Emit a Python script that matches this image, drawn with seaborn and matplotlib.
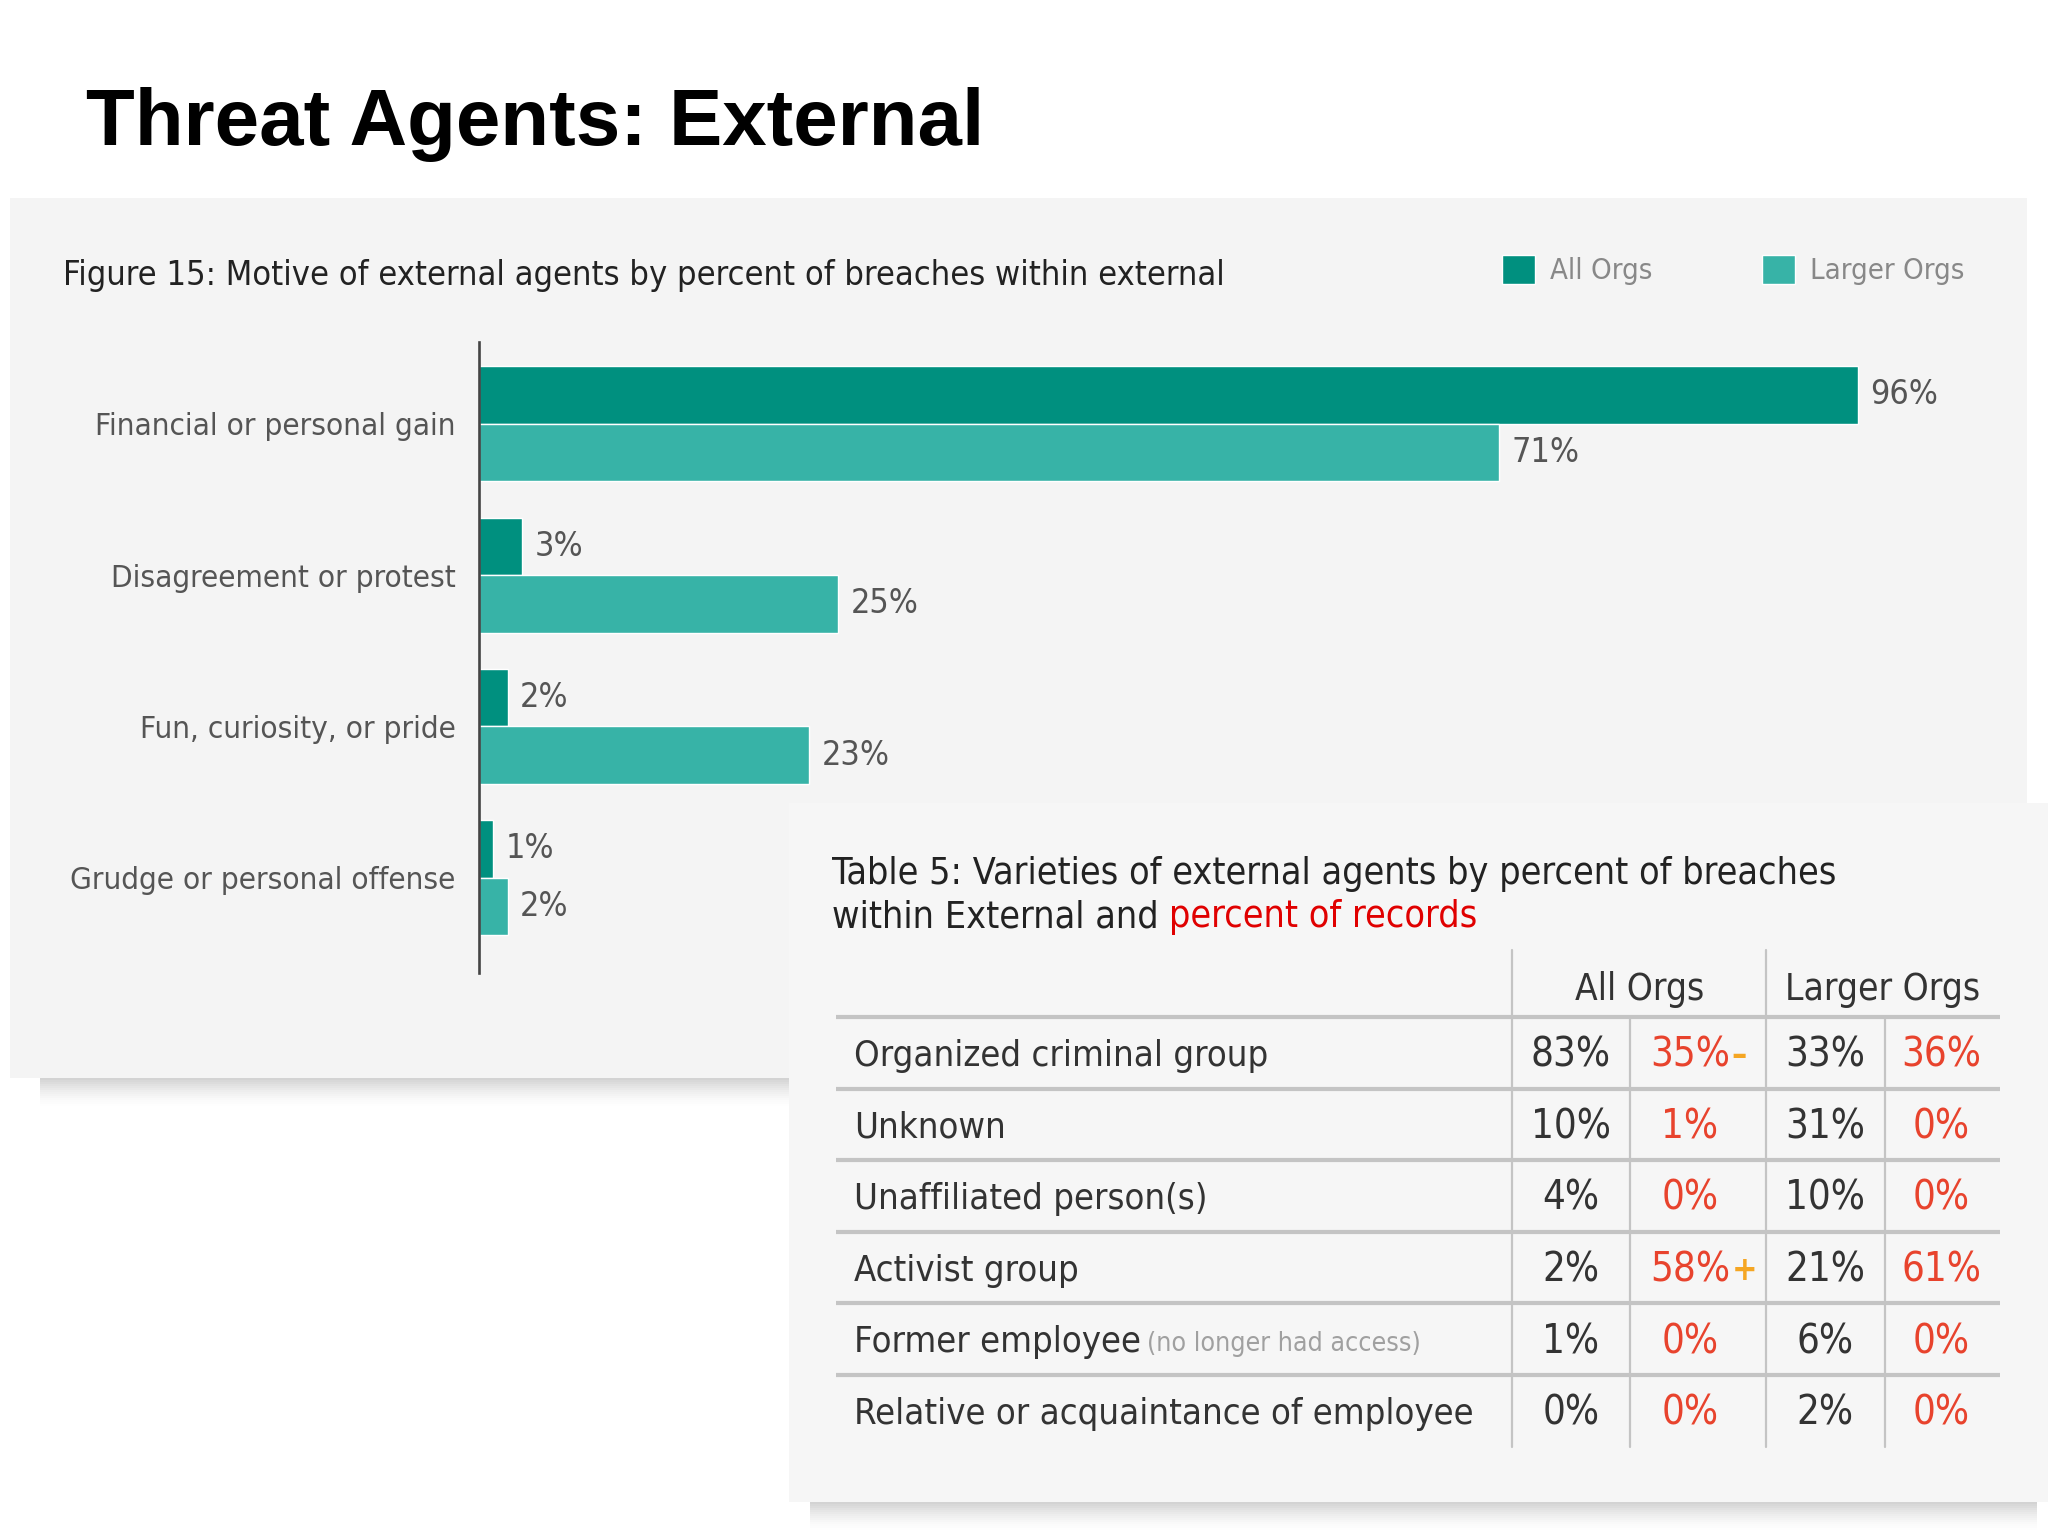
import matplotlib
matplotlib.use("Agg")
import matplotlib.pyplot as plt
from matplotlib import font_manager
from matplotlib.font_manager import FontProperties
from matplotlib.patches import Rectangle
import seaborn as sns
import pandas as pd

# ---- chart data ----
motives = ["Financial or personal gain", "Disagreement or protest",
           "Fun, curiosity, or pride", "Grudge or personal offense"]
all_orgs = [96, 3, 2, 1]
larger_orgs = [71, 25, 23, 2]
groups = ["All Orgs", "Larger Orgs"]

# ---- table data ----
varieties = ["Organized criminal group", "Unknown", "Unaffiliated person(s)",
             "Activist group", "Former employee", "Relative or acquaintance of employee"]
variety_notes = ["", "", "", "", "(no longer had access)", ""]
all_breaches = [83, 10, 4, 2, 1, 0]
all_records = [35, 1, 0, 58, 0, 0]
all_record_marks = ["\u2013", "", "", "+", "", ""]
larger_breaches = [33, 31, 10, 21, 6, 2]
larger_records = [36, 0, 0, 61, 0, 0]

DARK_TEAL = "#00907f"
LIGHT_TEAL = "#37b3a7"
RED = "#e8432d"
ORANGE = "#f5a623"

sns.set_style("white")

# pick a narrow face if one is around
fonts = font_manager.fontManager.ttflist


def has(name, stretch=None):
    return any(f.name == name and (stretch is None or f.stretch == stretch) for f in fonts)


if has("Liberation Sans Narrow"):
    FAM, STRETCH = "Liberation Sans Narrow", "normal"
elif has("DejaVu Sans", "condensed"):
    FAM, STRETCH = "DejaVu Sans", "condensed"
elif has("Roboto Condensed"):
    FAM, STRETCH = "Roboto Condensed", "normal"
elif has("Roboto"):
    FAM, STRETCH = "Roboto", "normal"
else:
    FAM, STRETCH = "DejaVu Sans", "normal"
plt.rcParams["font.family"] = [FAM, "DejaVu Sans"]
plt.rcParams["font.stretch"] = STRETCH

fig = plt.figure(figsize=(20.48, 15.36), dpi=100)
fig.patch.set_facecolor("white")
renderer = fig.canvas.get_renderer()


def fit(s, width_px, weight="normal"):
    """font size (pt) that makes s about width_px wide"""
    fp = FontProperties(family=FAM, stretch=STRETCH, weight=weight, size=100)
    w, _, _ = renderer.get_text_width_height_descent(s, fp, ismath=False)
    return 100 * width_px / w


FS_FIG_TITLE = fit("Figure 15: Motive of external agents by percent of breaches within external", 1162)
FS_TICK = fit("Grudge or personal offense", 387)
FS_BARLAB = fit("96%", 68)
FS_LEG = fit("All Orgs", 102)
FS_TAB_TITLE = fit("Table 5: Varieties of external agents by percent of breaches", 1006)
FS_HEAD = fit("Larger Orgs", 195)
FS_ROW = fit("Relative or acquaintance of employee", 619)
FS_NUM = fit("83%", 80)
FS_NOTE = fit("(no longer had access)", 273)

# background canvas in pixel coordinates
bg = fig.add_axes([0, 0, 1, 1], zorder=0)
bg.set_xlim(0, 2048)
bg.set_ylim(1536, 0)
bg.axis("off")


def shadow(x0, x1, y0, depth=28):
    n = 14
    for i in range(n):
        a = 0.32 * (1 - i / n) ** 1.6
        bg.add_patch(Rectangle((x0, y0 + i * depth / n), x1 - x0, depth / n,
                               fc="#777777", ec="none", alpha=a, zorder=1))


# upper (figure) panel
bg.add_patch(Rectangle((10, 198), 2017, 880, fc="#f4f4f4", ec="none", zorder=1))
shadow(40, 789, 1078)
# table panel
bg.add_patch(Rectangle((789, 803), 1259, 699, fc="#f6f6f6", ec="none", zorder=2))
shadow(810, 2037, 1502)

bg.text(86, 124, "Threat Agents: External", family=["Liberation Sans", "DejaVu Sans"],
        stretch="normal", fontsize=57.5, fontweight="bold", color="black",
        va="center", ha="left", zorder=3)
bg.text(63, 276, "Figure 15: Motive of external agents by percent of breaches within external",
        fontsize=FS_FIG_TITLE, color="#222222", va="center", ha="left", zorder=3)

# ---- bar chart ----
ax = fig.add_axes([479 / 2048, 1 - 973 / 1536, (1915 - 479) / 2048, (973 - 342) / 1536], zorder=3)
ax.patch.set_alpha(0)
df = pd.DataFrame({
    "motive": motives * 2,
    "pct": all_orgs + larger_orgs,
    "group": [groups[0]] * len(motives) + [groups[1]] * len(motives),
})
sns.barplot(data=df, x="pct", y="motive", hue="group", orient="h",
            palette=[DARK_TEAL, LIGHT_TEAL], saturation=1, width=0.76,
            errorbar=None, ax=ax)
ax.set_xlim(0, 100)
ax.set_ylim(3.63, -0.54)
for c in ax.containers:
    ax.bar_label(c, fmt="{:.0f}%", padding=9, fontsize=FS_BARLAB, color="#555555")
ax.set_xlabel("")
ax.set_ylabel("")
ax.set_xticks([])
ax.tick_params(axis="y", length=0, pad=17, labelsize=FS_TICK, labelcolor="#555555")
for s in ["top", "right", "bottom"]:
    ax.spines[s].set_visible(False)
ax.spines["left"].set_color("#444444")
ax.spines["left"].set_linewidth(1.9)

handles, labels = ax.get_legend_handles_labels()
ax.get_legend().remove()
leg_px = FS_LEG * 100 / 72
fig.legend(handles, labels, loc="center left", bbox_to_anchor=(1502 / 2048, 1 - 270 / 1536),
           ncol=2, frameon=False, handlelength=33 / leg_px, handleheight=33 / leg_px,
           handletextpad=15 / leg_px, columnspacing=110 / leg_px, borderpad=0,
           borderaxespad=0, fontsize=FS_LEG, labelcolor="#888888")

# ---- table ----
bg.text(832, 874, "Table 5: Varieties of external agents by percent of breaches",
        fontsize=FS_TAB_TITLE, color="#222222", va="center", ha="left", zorder=4)
t2 = bg.text(832, 917, "within External and ", fontsize=FS_TAB_TITLE, color="#222222",
             va="center", ha="left", zorder=4)
bg.annotate("percent of records", xy=(1, 0.5), xycoords=t2, va="center", ha="left",
            fontsize=FS_TAB_TITLE, color="#e00000", zorder=4)

line_c = "#c4c4c4"
row_top = 1017
row_h = 71.6
n = len(varieties)
bottom = row_top + n * row_h
for i in range(n):
    bg.plot([836, 2000], [row_top + i * row_h] * 2, color=line_c, lw=3, zorder=4,
            solid_capstyle="butt")
for x in [1512, 1766]:
    bg.plot([x, x], [950, bottom], color=line_c, lw=1.6, zorder=4)
for x in [1630, 1885]:
    bg.plot([x, x], [row_top, bottom], color=line_c, lw=1.6, zorder=4)

bg.text(1640, 989, "All Orgs", fontsize=FS_HEAD, color="#333333", ha="center", va="center", zorder=4)
bg.text(1883, 989, "Larger Orgs", fontsize=FS_HEAD, color="#333333", ha="center", va="center", zorder=4)

cols = [(1571, all_breaches, "#333333"), (1690, all_records, RED),
        (1825, larger_breaches, "#333333"), (1941, larger_records, RED)]
for i in range(n):
    yc = row_top + (i + 0.5) * row_h + 3
    lab = bg.text(854, yc, varieties[i], fontsize=FS_ROW, color="#333333",
                  ha="left", va="center", zorder=4)
    if variety_notes[i]:
        bg.annotate(variety_notes[i], xy=(1, 0.5), xycoords=lab, xytext=(4, -1),
                    textcoords="offset points", fontsize=FS_NOTE, color="#a0a0a0",
                    ha="left", va="center", zorder=4)
    for j, (x, vals, col) in enumerate(cols):
        t = bg.text(x, yc, f"{vals[i]}%", fontsize=FS_NUM, color=col,
                    ha="center", va="center", zorder=4)
        if j == 1 and all_record_marks[i]:
            bg.annotate(all_record_marks[i], xy=(1, 0.5), xycoords=t, xytext=(1, 0),
                        textcoords="offset points", fontsize=FS_NUM * 0.85,
                        fontweight="bold", color=ORANGE, ha="left", va="center", zorder=4)

fig.savefig("out.png", dpi=100)
